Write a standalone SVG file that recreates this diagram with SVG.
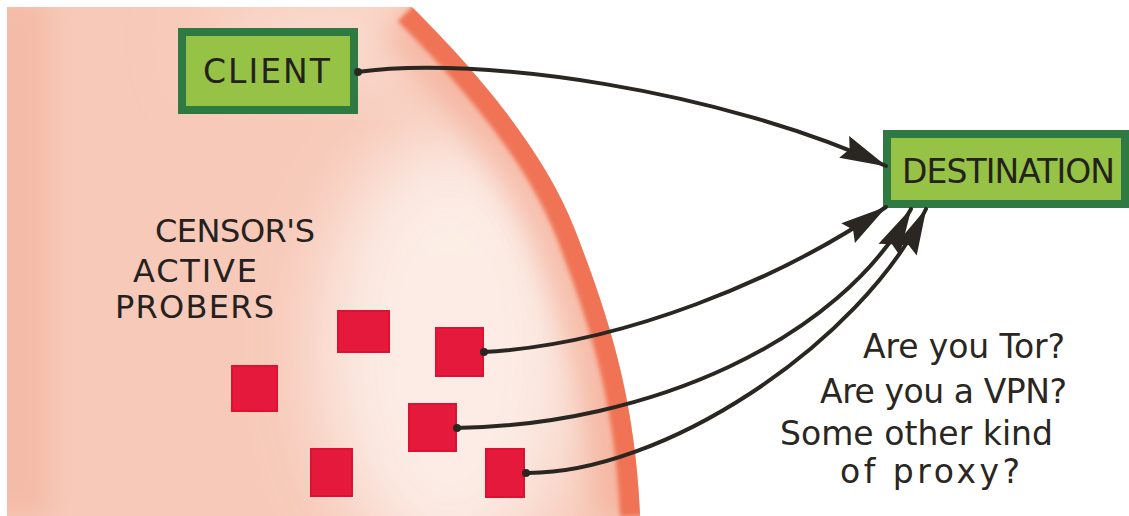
<svg xmlns="http://www.w3.org/2000/svg" width="1129" height="516" viewBox="0 0 1129 516">
<defs>
<style>
.lbl{font-family:"DejaVu Sans","Liberation Sans",sans-serif;fill:#24211e;}
.q{font-family:"DejaVu Sans","Liberation Sans",sans-serif;fill:#2a2622;font-size:33px;}
.box{fill:#96c345;stroke:#2e7a42;stroke-width:8;}
.prober{fill:#e5193c;stroke:#dc1233;stroke-width:2;}
.conn{fill:none;stroke:#2a2622;stroke-width:4;stroke-linecap:round;}
</style>
<clipPath id="regionClip"><path d="M7,7 L412,7 C460,55 540,140 575,230 S635,400 640,516 L7,516 Z"/></clipPath>
<filter id="blur40" x="-50%" y="-50%" width="200%" height="200%"><feGaussianBlur stdDeviation="40"/></filter>
<filter id="blur12" x="-50%" y="-50%" width="200%" height="200%"><feGaussianBlur stdDeviation="12"/></filter>
<filter id="blur2" x="-10%" y="-10%" width="120%" height="120%"><feGaussianBlur stdDeviation="2"/></filter>
<marker id="ah" markerUnits="userSpaceOnUse" markerWidth="54" markerHeight="32" viewBox="-50 -16 54 32" refX="0" refY="0" orient="auto">
<path d="M1,0 L-46,-12 L-40,0 L-46,12 Z" fill="#2a2622"/>
</marker>
</defs>
<rect width="1129" height="516" fill="#ffffff"/>
<g id="censor-region">
<path d="M7,7 L412,7 C460,55 540,140 575,230 S635,400 640,516 L7,516 Z" fill="#f7c9b8"/>
<g clip-path="url(#regionClip)">
<rect x="-20" y="0" width="70" height="516" fill="#f4bca8" filter="url(#blur12)"/>
<ellipse cx="450" cy="350" rx="130" ry="220" fill="#fdf3ee" opacity="0.85" filter="url(#blur40)"/>
<ellipse cx="330" cy="40" rx="120" ry="40" fill="#fbe0d6" filter="url(#blur40)"/>
<path d="M412,7 C460,55 540,140 575,230 S635,400 640,516" fill="none" stroke="#f4a891" stroke-width="90" opacity="0.55" filter="url(#blur12)"/>
<path d="M412,7 C460,55 540,140 575,230 S635,400 640,516" fill="none" stroke="#f07354" stroke-width="40" filter="url(#blur2)"/>
</g>
</g>
<g id="label-censor">
<text class="lbl" x="155" y="242" font-size="32" textLength="160">CENSOR'S</text>
<text class="lbl" x="133" y="282" font-size="32" textLength="124">ACTIVE</text>
<text class="lbl" x="115" y="318" font-size="32" textLength="159">PROBERS</text>
</g>
<g id="probers">
<rect class="prober" x="338" y="311" width="51" height="41"/>
<rect class="prober" x="436" y="328" width="47" height="48"/>
<rect class="prober" x="232" y="366" width="45" height="45"/>
<rect class="prober" x="409" y="404" width="47" height="47"/>
<rect class="prober" x="311" y="449" width="41" height="47"/>
<rect class="prober" x="486" y="449" width="38" height="48"/>
</g>
<g id="client">
<rect class="box" x="182" y="32" width="172" height="78"/>
<text class="lbl" x="203" y="83" font-size="33" textLength="127">CLIENT</text>
</g>
<g id="destination">
<rect class="box" x="887" y="134" width="238" height="70" stroke-width="7"/>
<text class="lbl" x="902" y="183" font-size="33" textLength="213">DESTINATION</text>
</g>
<g id="connectors">
<path class="conn" d="M357,72 C480,55 720,90 886,166" marker-end="url(#ah)"/>
<path class="conn" d="M483,352 C620,345 780,280 886,207" marker-end="url(#ah)"/>
<path class="conn" d="M456,428 C650,425 840,340 911,209" marker-end="url(#ah)"/>
<path class="conn" d="M525,473 C660,475 860,345 926,209" marker-end="url(#ah)"/>
<circle cx="358" cy="72" r="4" fill="#2a2622"/>
<circle cx="484" cy="352" r="4" fill="#2a2622"/>
<circle cx="457" cy="428" r="4" fill="#2a2622"/>
<circle cx="526" cy="473" r="4" fill="#2a2622"/>
</g>
<g id="question">
<text class="q" x="863" y="358" textLength="202">Are you Tor?</text>
<text class="q" x="820" y="403" textLength="247">Are you a VPN?</text>
<text class="q" x="780" y="445" textLength="273">Some other kind</text>
<text class="q" x="840" y="483" font-size="37" textLength="180">of proxy?</text>
</g>
</svg>
